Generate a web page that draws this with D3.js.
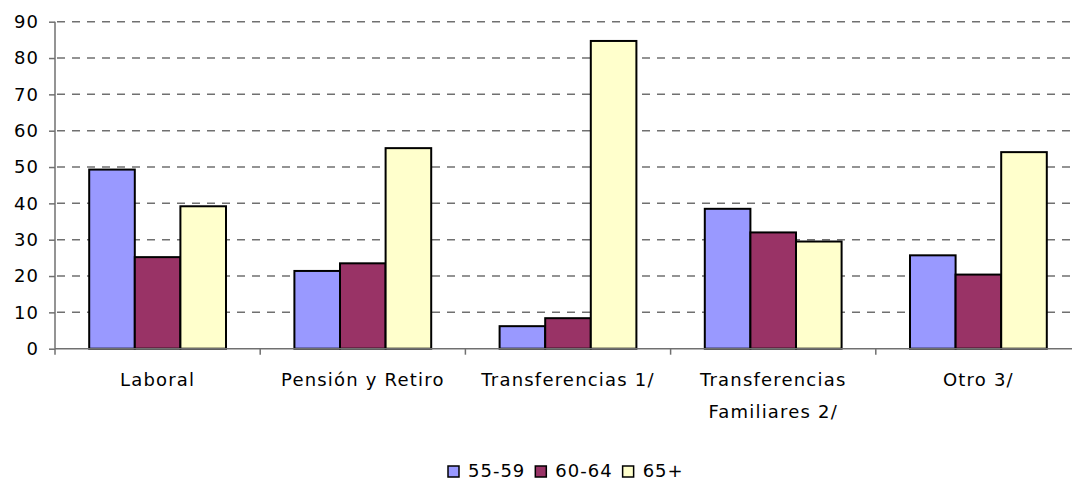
<!DOCTYPE html>
<meta charset="utf-8">
<head>
	<title> Fuentes de ingreso por edad </title>
	<style>
		body { margin: 0; background: #fff; }
		text { font-family: "DejaVu Sans", Verdana, sans-serif; fill: #000; }
		.grid line { stroke: #707070; stroke-width: 1.5px; stroke-dasharray: 8 7; }
		.bar { stroke: #000; stroke-width: 2px; }
	</style>
</head>
<body>
	<div class="container"></div>
</body>

<script src="https://cdnjs.cloudflare.com/ajax/libs/d3/7.8.5/d3.min.js"></script>

<script type="text/javascript">

	// Data
	var categories = [["Laboral"], ["Pensión y Retiro"], ["Transferencias 1/"], ["Transferencias", "Familiares 2/"], ["Otro 3/"]];
	var series = ["55-59", "60-64", "65+"];
	var v5559 = [49.3, 21.4, 6.2, 38.5, 25.7];
	var v6064 = [25.2, 23.5, 8.4, 32.0, 20.4];
	var v65 = [39.2, 55.2, 84.7, 29.5, 54.1];
	var yTicks = [0, 10, 20, 30, 40, 50, 60, 70, 80, 90];
	var colors = ["#9999ff", "#993366", "#ffffcc"];

	var width = 1072;
	var height = 481;
	// plot box (right edge runs past the picture, as in the reference)
	var plotLeft = 55, plotRight = 1081, plotTop = 21.7, plotBottom = 348.7;

	var svg = d3.select(".container").append("svg")
		.attr("width", width)
		.attr("height", height);

	var x0 = d3.scaleBand()
		.domain(d3.range(categories.length))
		.range([plotLeft, plotRight])
		.padding(0);

	var x1 = d3.scaleBand()
		.domain(series)
		.range([0, x0.bandwidth()])
		.paddingInner(0)
		.paddingOuter(0.75);

	var y = d3.scaleLinear()
		.domain([0, 90])
		.range([plotBottom, plotTop]);

	var color = d3.scaleOrdinal().domain(series).range(colors);

	// dashed gridlines
	svg.append("g").attr("class", "grid")
		.selectAll("line")
		.data(yTicks.slice(1))
		.enter().append("line")
		.attr("x1", plotLeft + 2).attr("x2", width)
		.attr("y1", function (d) { return y(d); })
		.attr("y2", function (d) { return y(d); });

	// bars
	var rows = categories.map(function (c, i) {
		return [v5559[i], v6064[i], v65[i]];
	});

	svg.append("g").selectAll("g")
		.data(rows)
		.enter().append("g")
		.attr("transform", function (d, i) { return "translate(" + x0(i) + ",0)"; })
		.selectAll("rect")
		.data(function (d) { return d.map(function (v, j) { return { key: series[j], value: v }; }); })
		.enter().append("rect")
		.attr("class", "bar")
		.attr("x", function (d) { return x1(d.key); })
		.attr("width", x1.bandwidth())
		.attr("y", function (d) { return y(d.value); })
		.attr("height", function (d) { return y(0) - y(d.value); })
		.attr("fill", function (d) { return color(d.key); });

	// y axis
	var yAxis = svg.append("g")
		.attr("transform", "translate(" + plotLeft + ",0)")
		.call(d3.axisLeft(y).tickValues(yTicks).tickSize(6).tickPadding(10));
	yAxis.select(".domain").attr("stroke", "#707070").attr("stroke-width", 1.5)
		.attr("d", "M0," + plotTop + "V" + plotBottom);
	yAxis.selectAll(".tick line").attr("stroke", "#707070").attr("stroke-width", 1.5);
	yAxis.selectAll(".tick text")
		.style("font-size", "18px").style("letter-spacing", "1px")
		.attr("fill", "#000").attr("font-family", null);
	yAxis.attr("font-family", null).attr("font-size", null);

	// x axis line + category ticks
	var xg = svg.append("g");
	xg.append("line")
		.attr("x1", plotLeft).attr("x2", width)
		.attr("y1", plotBottom).attr("y2", plotBottom)
		.attr("stroke", "#707070").attr("stroke-width", 1.5);
	xg.selectAll(".ctick")
		.data(d3.range(categories.length + 1))
		.enter().append("line")
		.attr("x1", function (i) { return plotLeft + i * x0.step(); })
		.attr("x2", function (i) { return plotLeft + i * x0.step(); })
		.attr("y1", plotBottom).attr("y2", plotBottom + 6)
		.attr("stroke", "#707070").attr("stroke-width", 1.5);

	xg.selectAll(".clabel")
		.data(categories)
		.enter().append("text")
		.attr("text-anchor", "middle")
		.style("font-size", "18px").style("letter-spacing", "1.2px")
		.attr("x", function (d, i) { return x0(i) + x0.bandwidth() / 2; })
		.attr("y", 386)
		.each(function (d) {
			var t = d3.select(this);
			d.forEach(function (line, k) {
				t.append("tspan")
					.attr("x", t.attr("x"))
					.attr("dy", k === 0 ? 0 : 32)
					.text(line);
			});
		});

	// legend
	var legend = svg.append("g");
	var lx = 448;
	series.forEach(function (s, j) {
		legend.append("rect")
			.attr("x", lx).attr("y", 466)
			.attr("width", 11).attr("height", 11)
			.attr("fill", colors[j]).attr("stroke", "#000").attr("stroke-width", 1.5);
		var t = legend.append("text")
			.attr("x", lx + 20).attr("y", 477)
			.style("font-size", "18px").style("letter-spacing", "1px")
			.text(s);
		lx += 20 + t.node().getComputedTextLength() + 10;
	});

</script>
</html>
